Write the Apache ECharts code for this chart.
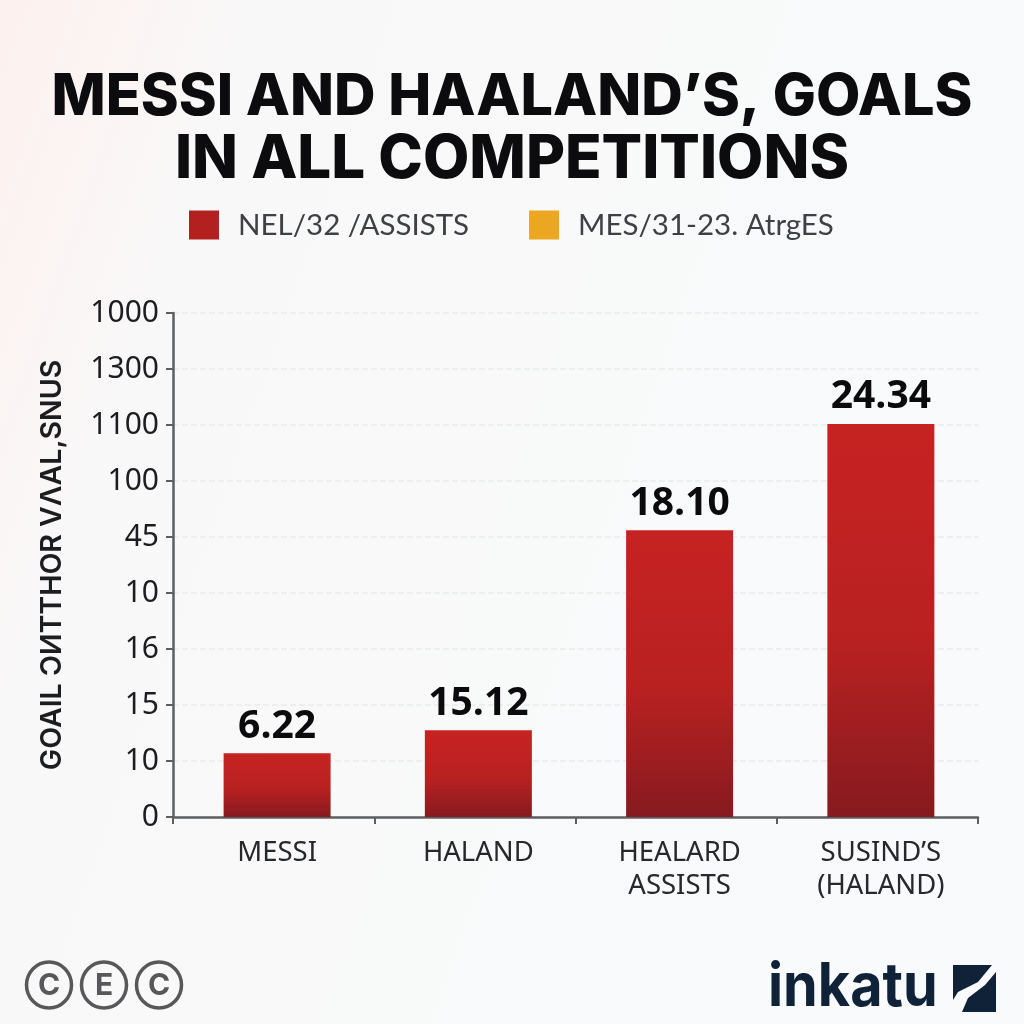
<!DOCTYPE html>
<html><head><meta charset="utf-8">
<style>html,body{margin:0;padding:0;background:#f8f9fa}#c{width:1024px;height:1024px}</style>
<script src="https://cdn.jsdelivr.net/npm/echarts@6/dist/echarts.min.js"></script>
</head><body><div id="c"></div>
<script>
const titleLines = ["MESSI AND HAALAND’S, GOALS", "IN ALL COMPETITIONS"];
const legendNames = ["NEL/32 /ASSISTS", "MES/31-23. AtrgES"];
const categories = ["MESSI", "HALAND", "HEALARD\nASSISTS", "SUSIND’S\n(HALAND)"];
const yTickLabels = ["0", "10", "15", "16", "10", "45", "100", "1100", "1300", "1000"];
const barHeights = [1.14, 1.55, 5.12, 7.02];
const barLabels = ["6.22", "15.12", "18.10", "24.34"];
const yAxisTitle = "GOAIL ƆИTTHOR VΛAL,SNUS";
const chart = echarts.init(document.getElementById('c'), null, {renderer:'canvas'});
const redGrad = new echarts.graphic.LinearGradient(0,0,0,1,[
  {offset:0,color:'#c62222'},{offset:0.55,color:'#b92121'},{offset:1,color:'#861a1f'}]);
const font = 'Inter';
const titleLine = {fontFamily:font,fontWeight:800,lineHeight:62,color:'#0c0c0e',align:'center'};
chart.setOption({
  animation:false,
  backgroundColor:new echarts.graphic.LinearGradient(0,0,1,0.35,[
    {offset:0,color:'#fdf1ef'},{offset:0.22,color:'#f9f8f8'},{offset:1,color:'#f8fafb'}]),
  title:{text:`{a|${titleLines[0]}}\n{b|${titleLines[1]}}`,left:507,top:62,textAlign:'center',
    textStyle:{fontFamily:font,fontWeight:800,fontSize:57.5,lineHeight:62,color:'#0c0c0e',align:'center',
      rich:{a:{...titleLine,fontSize:57.5},b:{...titleLine,fontSize:60}}}},
  legend:{left:184,top:205,itemWidth:30,itemHeight:29,itemGap:60,icon:'rect',
    data:[{name:legendNames[0],itemStyle:{color:'#b32020'}},{name:legendNames[1],itemStyle:{color:'#eba722'}}],
    textStyle:{fontFamily:'Lato',fontSize:29.5,color:'#3d4045',padding:[0,0,0,14]}},
  grid:{left:173,right:46,top:313,bottom:207,containLabel:false},
  xAxis:{type:'category',data:categories,
    axisLine:{lineStyle:{color:'#5c5f62',width:2.5}},
    axisTick:{show:true,alignWithLabel:false,length:7,lineStyle:{color:'#5c5f62',width:2}},
    axisLabel:{interval:0,margin:20,fontFamily:'Noto Sans',fontSize:27.5,lineHeight:33,color:'#26282b',verticalAlign:'top',padding:[0,0,0,7]}},
  yAxis:{type:'value',min:0,max:9,interval:1,
    name:yAxisTitle,nameLocation:'middle',nameRotate:90,nameGap:106,
    nameTextStyle:{fontFamily:font,fontWeight:600,fontSize:28.5,color:'#1c1d20'},
    axisLine:{show:true,onZero:false,lineStyle:{color:'#5c5f62',width:2.5}},
    axisTick:{show:true,length:7,lineStyle:{color:'#5c5f62',width:2}},
    splitLine:{show:true,lineStyle:{color:'#e9ebec',width:1.5,type:'dashed'}},
    axisLabel:{margin:14,fontFamily:'Noto Sans',fontSize:30,color:'#1c1d20',formatter:(v)=>yTickLabels[v]}},
  series:[
    {name:legendNames[1],type:'bar',barWidth:107,barGap:'-93.5%',data:[],itemStyle:{color:'#eba722'}},
    {name:legendNames[0],type:'bar',barWidth:107,
     data:barHeights.map((v,i)=>({value:v,label:{formatter:barLabels[i]}})),
     itemStyle:{color:redGrad},
     label:{show:true,position:'top',distance:7,fontFamily:'Open Sans',fontWeight:700,fontSize:39,color:'#0b0b0d'}}
  ],
  graphic:[
    ...[49,104,159].map((cx,i)=>({type:'group',children:[
      {type:'ellipse',shape:{cx:cx,cy:985,rx:22.5,ry:23},style:{fill:'none',stroke:'#58585a',lineWidth:3.5}},
      {type:'text',style:{x:cx,y:986,text:i===1?'E':'C',align:'center',verticalAlign:'middle',
        font:'700 30px Inter',fill:'#58585a'}}
    ]})),
    {type:'text',x:768,y:988,scaleX:0.93,style:{x:0,y:0,text:'inkatu',verticalAlign:'middle',font:'700 60px Inter',fill:'#0f2238'}},
    {type:'polygon',shape:{points:[[953,965],[992,965],[978,982],[958,992],[953,1000]]},style:{fill:'#0f2238'}},
    {type:'polygon',shape:{points:[[996,972],[996,1012],[962,1012],[968,998],[985,985]]},style:{fill:'#0f2238'}}
  ]
});
</script></body></html>
